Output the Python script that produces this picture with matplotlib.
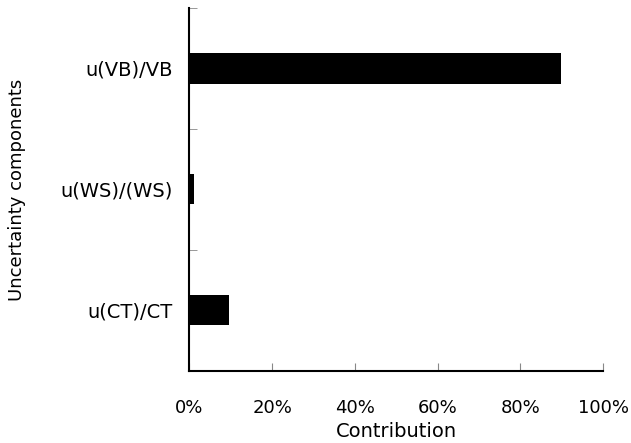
import numpy as np
import matplotlib.pyplot as plt
from matplotlib.ticker import FixedLocator, PercentFormatter

# data (percent contribution)
components = ['u(CT)/CT', 'u(WS)/(WS)', 'u(VB)/VB']
contribution = [9.5, 1.2, 89.7]

plt.rcParams['font.family'] = ['DejaVu Sans']

fig = plt.figure(figsize=(6.31, 4.43), dpi=100)
ax = fig.add_axes([0.300, 0.163, 0.656, 0.819])

y = np.arange(len(components))
ax.barh(y, contribution, height=0.25, color='black')

ax.set_xlim(0, 100)
ax.set_ylim(-0.5, len(components) - 0.5)
ax.set_xticks(np.arange(0, 101, 20))
ax.xaxis.set_major_formatter(PercentFormatter(decimals=0))
ax.set_yticks(y)
ax.set_yticklabels(components)
ax.yaxis.set_minor_locator(FixedLocator(np.arange(-0.5, len(components), 1)))

ax.tick_params(axis='x', direction='in', length=6, color='#888888', pad=20, labelsize=13)
ax.tick_params(axis='y', which='major', length=0, pad=12, labelsize=14)
ax.tick_params(axis='y', which='minor', direction='in', length=6, color='#888888')

for s in ['top', 'right']:
    ax.spines[s].set_visible(False)
ax.spines['left'].set_linewidth(1.5)
ax.spines['bottom'].set_linewidth(1.5)

ax.set_xlabel('Contribution', fontsize=14, labelpad=4)
ax.set_ylabel('Uncertainty components', fontsize=13)
ax.yaxis.set_label_coords(-0.395, 0.5)

fig.savefig('out.png', dpi=100)
